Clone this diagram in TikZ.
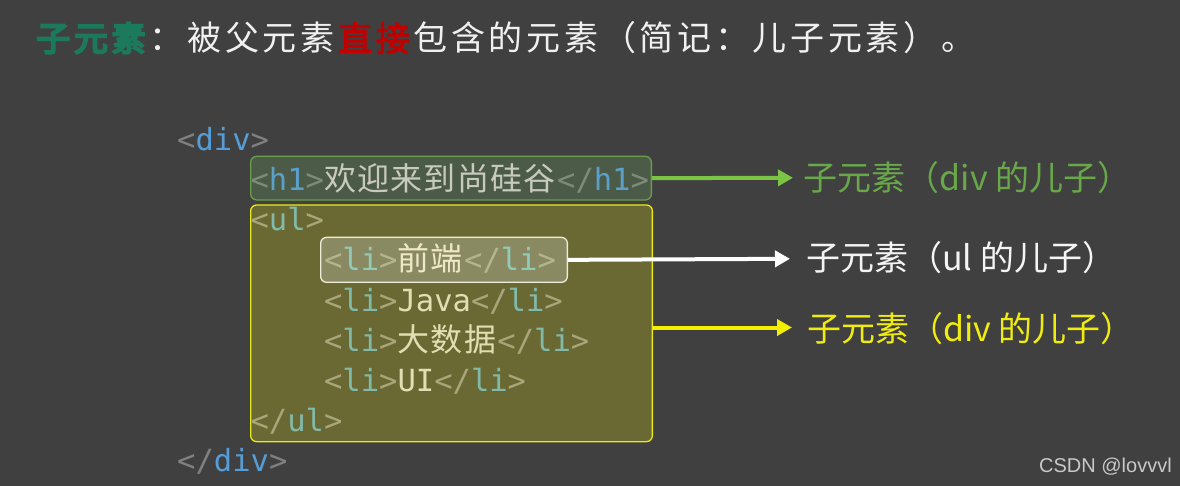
\documentclass[tikz,border=0pt]{standalone}
\usepackage{fontspec}
\setmonofont{DejaVu Sans Mono}
\newfontfamily\cjk{Noto Sans CJK SC}
\newfontfamily\cjkbf[FakeBold=3]{Noto Sans CJK SC}
\newfontfamily\cjkglow[FakeBold=6]{Noto Sans CJK SC}
\newfontfamily\wmfont{Liberation Sans}
\usetikzlibrary{arrows.meta}
\makeatletter
\newcommand\trk[2]{\@tfor\tk@c:=#2\do{\tk@c\kern#1}}
\makeatother
\definecolor{bg}{HTML}{404040}
\definecolor{ttl}{HTML}{F0F0F0}
\definecolor{tgreen}{HTML}{1B7A5C}
\definecolor{tred}{HTML}{C00000}
% code colours
\definecolor{gb}{HTML}{808080}
\definecolor{bl}{HTML}{569CD6}
\definecolor{hb}{HTML}{7D8C78}
\definecolor{hn}{HTML}{5AA0C8}
\definecolor{ht}{HTML}{C8CABE}
\definecolor{ub}{HTML}{A8A67A}
\definecolor{un}{HTML}{82BAAA}
\definecolor{ut}{HTML}{E2DEB4}
\definecolor{lb}{HTML}{B4B48E}
\definecolor{ln}{HTML}{92CABA}
\definecolor{lt}{HTML}{EEE8C8}
% boxes
\definecolor{h1fill}{HTML}{4C5B48}
\definecolor{h1draw}{HTML}{6B9E4A}
\definecolor{ulfill}{HTML}{6B6933}
\definecolor{uldraw}{HTML}{E8E81A}
\definecolor{lifill}{HTML}{8A8A62}
\definecolor{lidraw}{HTML}{ECECD8}
% arrows / labels
\definecolor{agreen}{HTML}{7CC544}
\definecolor{ayellow}{HTML}{F4EE00}
\definecolor{lgreen}{HTML}{68A848}
\definecolor{lyellow}{HTML}{F0EC10}
\definecolor{lwhite}{HTML}{F4F4F4}
\definecolor{wm}{HTML}{C8C8C8}
\newcommand\cjc[1]{{\cjk\fontsize{32}{36}\selectfont\trk{1.3pt}{#1}}}
\begin{document}
\begin{tikzpicture}[x=1pt,y=-1pt,
  codeline/.style={anchor=base west,inner sep=0pt,font=\ttfamily\fontsize{30.5}{36}\selectfont},
  hbox/.style={draw=h1draw,fill=h1fill,line width=1.3pt,rounded corners=6pt,anchor=north west,inner sep=0pt},
  ubox/.style={draw=uldraw,fill=ulfill,line width=1.3pt,rounded corners=6pt,anchor=north west,inner sep=0pt},
  lbox/.style={draw=lidraw,fill=lifill,line width=1.3pt,rounded corners=6pt,anchor=north west,inner sep=0pt},
  arr/.style={line width=4pt,-{Triangle[length=15pt,width=16pt]}},
  lbl/.style={anchor=base west,inner sep=0pt,font=\cjk\fontsize{34}{40}\selectfont},
  ttlnode/.style={anchor=base west,inner sep=0pt}]
\useasboundingbox (0,0) rectangle (1180,486);
\fill[bg] (0,0) rectangle (1180,486);

% ---------- title ----------
\node[ttlnode,text=tgreen] (tkey) at (36,51) {\cjkglow\fontsize{34}{40}\selectfont\special{pdf:content 0.86 0.94 0.90 RG}\trk{3.7pt}{子元素}};
\node[ttlnode,text=ttl] (trest) at (tkey.base east) {\cjk\fontsize{34}{40}\selectfont\trk{3.7pt}{：被父元素}\textcolor{tred}{\cjkbf\trk{3.7pt}{直接}}\trk{3.7pt}{包含的元素（简记：儿子元素）。}};

% ---------- boxes ----------
\node[hbox,minimum width=400.7pt,minimum height=43.6pt] (h1b) at (250,155.7) {};
\node[ubox,minimum width=401.7pt,minimum height=236.7pt] (ulb) at (250,204.3) {};
\node[lbox,minimum width=246.7pt,minimum height=45pt] (lib) at (320,236.7) {};

% ---------- code ----------
\node[codeline] (c1) at (177,151) {\textcolor{gb}{<}\textcolor{bl}{div}\textcolor{gb}{>}};
\node[codeline] (c2) at (250.4,191) {\textcolor{hb}{<}\textcolor{hn}{h1}\textcolor{hb}{>}{\color{ht}\cjc{欢迎来到尚硅谷}}\textcolor{hb}{</}\textcolor{hn}{h1}\textcolor{hb}{>}};
\node[codeline] (c3) at (250.4,231) {\textcolor{ub}{<}\textcolor{un}{ul}\textcolor{ub}{>}};
\node[codeline] (c4) at (323.9,270) {\textcolor{lb}{<}\textcolor{ln}{li}\textcolor{lb}{>}{\color{lt}\cjc{前端}}\textcolor{lb}{</}\textcolor{ln}{li}\textcolor{lb}{>}};
\node[codeline] (c5) at (323.9,311) {\textcolor{ub}{<}\textcolor{un}{li}\textcolor{ub}{>}\textcolor{ut}{Java}\textcolor{ub}{</}\textcolor{un}{li}\textcolor{ub}{>}};
\node[codeline] (c6) at (323.9,351) {\textcolor{ub}{<}\textcolor{un}{li}\textcolor{ub}{>}{\color{ut}\cjc{大数据}}\textcolor{ub}{</}\textcolor{un}{li}\textcolor{ub}{>}};
\node[codeline] (c7) at (323.9,391) {\textcolor{ub}{<}\textcolor{un}{li}\textcolor{ub}{>}\textcolor{ut}{UI}\textcolor{ub}{</}\textcolor{un}{li}\textcolor{ub}{>}};
\node[codeline] (c8) at (250.4,431) {\textcolor{ub}{</}\textcolor{un}{ul}\textcolor{ub}{>}};
\node[codeline] (c9) at (177,471) {\textcolor{gb}{</}\textcolor{bl}{div}\textcolor{gb}{>}};

% ---------- labels ----------
\node[lbl,text=lgreen] (lab1) at (803.5,191) {子元素（div 的儿子）};
\node[lbl,text=lwhite] (lab2) at (806,270) {子元素（ul 的儿子）};
\node[lbl,text=lyellow] (lab3) at (807,341) {子元素（div 的儿子）};

% ---------- arrows ----------
\coordinate (t1) at (793,177.8);
\coordinate (t2) at (790,258.8);
\coordinate (t3) at (792,327.5);
\draw[arr,agreen] (h1b.east) -- (t1);
\draw[arr,white] (lib.east) -- (t2);
\draw[arr,ayellow] (ulb.east |- t3) -- (t3);

% ---------- watermark ----------
\node[anchor=base west,inner sep=0pt,text=wm,font=\wmfont\fontsize{20}{24}\selectfont] (wmk) at (1039,472) {CSDN @lovvvl};
\end{tikzpicture}
\end{document}
